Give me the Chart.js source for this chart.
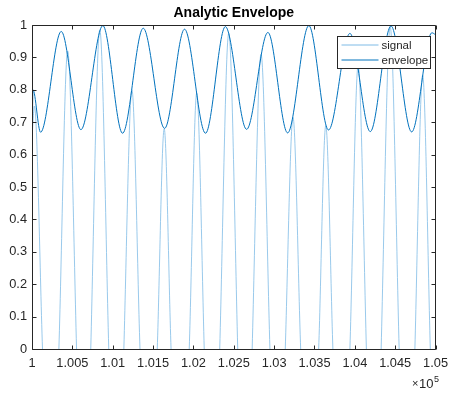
<!DOCTYPE html>
<html>
<head>
<meta charset="utf-8">
<script src="https://cdn.jsdelivr.net/npm/chart.js@4.4.0/dist/chart.umd.min.js"></script>
<style>
  body { margin: 0; background: #fff; }
</style>
</head>
<body>
<canvas id="envChart" width="455" height="394"></canvas>
<script>
// signal: zero crossings, crest and trough samples
const sigSamples = [100000, 100030, 100130, 100232, 100333, 100442, 100552, 100640, 100728, 100840,
  100951, 101045, 101138, 101238, 101338, 101445, 101552, 101638, 101723, 101836,
  101948, 102041, 102134, 102230, 102326, 102438, 102549, 102638, 102728, 102838,
  102948, 103043, 103138, 103234, 103329, 103440, 103552, 103640, 103728, 103834,
  103939, 104041, 104143, 104235, 104326, 104438, 104549, 104646, 104744, 104840,
  104935, 105000];
const sigValues = [0.65, 0.75, 0, -0.75, 0, 0.92, 0, -0.92, 0, 0.985,
  0, -0.9, 0, 0.80, 0, -0.75, 0, 0.68, 0, -0.7,
  0, 0.79, 0, -0.9, 0, 0.975, 0, -0.95, 0, 0.91,
  0, -0.8, 0, 0.715, 0, -0.68, 0, 0.69, 0, -0.78,
  0, 0.875, 0, -0.95, 0, 0.995, 0, -0.95, 0, 0.845,
  0, -0.6];

// envelope: peaks and valleys
const envSamples = [100000, 100012, 100106, 100362, 100606, 100878, 101122, 101378, 101643, 101890,
  102150, 102396, 102659, 102923, 103167, 103430, 103674, 103939, 104191, 104448,
  104704, 104955, 105000];
const envValues = [0.59, 0.80, 0.669, 0.98, 0.677, 0.998, 0.666, 0.99, 0.681, 0.987,
  0.666, 0.995, 0.678, 0.977, 0.667, 0.998, 0.676, 0.974, 0.671, 0.997,
  0.670, 0.976, 0.97];

const seriesNames = ['signal', 'envelope'];
const seriesColors = ['#7fbbe6', '#0072BD'];

const FONT = "'Liberation Sans', Arial, Helvetica, sans-serif";
const AXIS = '#262626';

function pts(xs, ys) {
  return xs.map((x, i) => ({ x: x, y: ys[i] }));
}

// matlab style box, inward ticks, legend and exponent label
const matlabAxes = {
  id: 'matlabAxes',
  afterDraw(chart) {
    const ctx = chart.ctx;
    const a = chart.chartArea;
    const xs = chart.scales.x, ys = chart.scales.y;
    const L = Math.round(a.left) + 0.5, R = Math.round(a.right) - 0.5;
    const T = Math.round(a.top) + 0.5, B = Math.round(a.bottom) + 0.5;
    ctx.save();
    ctx.strokeStyle = AXIS;
    ctx.lineWidth = 1;
    ctx.beginPath();
    ctx.rect(L, T, R - L, B - T);
    xs.ticks.forEach(t => {
      const px = Math.round(xs.getPixelForValue(t.value)) + 0.5;
      ctx.moveTo(px, B); ctx.lineTo(px, B - 4);
      ctx.moveTo(px, T); ctx.lineTo(px, T + 4);
    });
    ys.ticks.forEach(t => {
      const py = Math.round(ys.getPixelForValue(t.value)) + 0.5;
      ctx.moveTo(L, py); ctx.lineTo(L + 4, py);
      ctx.moveTo(R, py); ctx.lineTo(R - 4, py);
    });
    ctx.stroke();

    // legend box
    const lx = 337.5, ly = 36.5, lw = 93, lh = 32;
    ctx.fillStyle = '#fff';
    ctx.fillRect(lx, ly, lw, lh);
    ctx.strokeRect(lx, ly, lw, lh);
    ctx.font = '11.5px ' + FONT;
    ctx.textBaseline = 'middle';
    ctx.textAlign = 'left';
    seriesNames.forEach((name, i) => {
      const yy = ly + 8.5 + i * 15;
      ctx.strokeStyle = seriesColors[i];
      ctx.beginPath();
      ctx.moveTo(lx + 4, yy); ctx.lineTo(lx + 41, yy);
      ctx.stroke();
      ctx.fillStyle = AXIS;
      ctx.fillText(name, lx + 44, yy + 0.5);
    });

    // x exponent
    ctx.fillStyle = AXIS;
    ctx.textBaseline = 'alphabetic';
    ctx.font = '11px ' + FONT;
    ctx.fillText('\u00d7', 412, 387);
    ctx.font = '13px ' + FONT;
    ctx.fillText('10', 419, 388);
    ctx.font = '9px ' + FONT;
    ctx.fillText('5', 434, 382);
    ctx.restore();
  }
};

new Chart(document.getElementById('envChart'), {
  type: 'line',
  data: {
    datasets: [
      {
        label: seriesNames[0],
        data: pts(sigSamples, sigValues),
        borderColor: seriesColors[0],
        borderWidth: 0.8,
        pointRadius: 0,
        cubicInterpolationMode: 'monotone',
        clip: 0,
        order: 2
      },
      {
        label: seriesNames[1],
        data: pts(envSamples, envValues),
        borderColor: seriesColors[1],
        borderWidth: 1,
        pointRadius: 0,
        cubicInterpolationMode: 'monotone',
        clip: 0,
        order: 1
      }
    ]
  },
  options: {
    responsive: false,
    devicePixelRatio: 1,
    animation: false,
    layout: { padding: { left: 0, right: 13, top: 0, bottom: 0 } },
    plugins: {
      legend: { display: false },
      tooltip: { enabled: false },
      title: {
        display: true,
        text: 'Analytic Envelope',
        fullSize: false,
        color: '#000',
        font: { family: FONT, size: 14, weight: 'bold' },
        padding: { top: 5.2, bottom: 3 }
      }
    },
    scales: {
      x: {
        type: 'linear',
        min: 100000,
        max: 105000,
        grid: { display: false, drawTicks: false },
        border: { display: false },
        ticks: {
          stepSize: 500,
          autoSkip: false,
          maxRotation: 0,
          padding: 7,
          color: AXIS,
          font: { family: FONT, size: 12.8 },
          callback: v => String(+(v / 1e5).toFixed(3))
        },
        afterFit: s => { s.height = 45; }
      },
      y: {
        min: 0,
        max: 1,
        grid: { display: false, drawTicks: false },
        border: { display: false },
        ticks: {
          stepSize: 0.1,
          padding: 5,
          color: AXIS,
          font: { family: FONT, size: 12.8 },
          callback: v => String(+v.toFixed(1))
        },
        afterFit: s => { s.width = 32; }
      }
    }
  },
  plugins: [matlabAxes]
});
</script>
</body>
</html>
